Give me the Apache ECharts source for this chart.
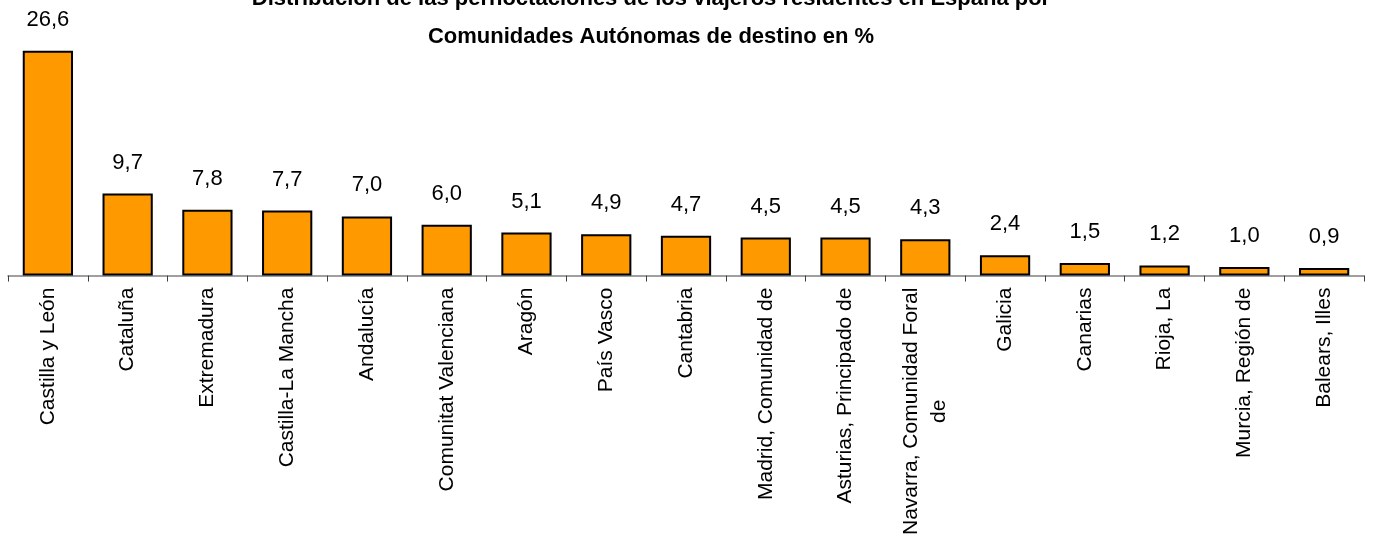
<!DOCTYPE html>
<html>
<head>
<meta charset="utf-8">
<script src="https://cdn.jsdelivr.net/npm/echarts@6/dist/echarts.min.js"></script>
<style>
  html, body { margin: 0; padding: 0; background: #fff; }
  #chart { width: 1391px; height: 538px; }
</style>
</head>
<body>
<div id="chart"></div>
<script>
// comunidades y porcentajes
var categories = ['Castilla y León', 'Cataluña', 'Extremadura', 'Castilla-La Mancha', 'Andalucía',
  'Comunitat Valenciana', 'Aragón', 'País Vasco', 'Cantabria', 'Madrid, Comunidad de',
  'Asturias, Principado de', 'Navarra, Comunidad Foral\nde', 'Galicia', 'Canarias', 'Rioja, La',
  'Murcia, Región de', 'Balears, Illes'];
var values = [26.6, 9.7, 7.8, 7.7, 7.0, 6.0, 5.1, 4.9, 4.7, 4.5, 4.5, 4.3, 2.4, 1.5, 1.2, 1.0, 0.9];

var font = 'Arial, "Liberation Sans", sans-serif';

var option = {
  animation: false,
  backgroundColor: '#fff',
  title: {
    text: 'Distribución de las pernoctaciones de los viajeros residentes en España por\nComunidades Autónomas de destino en %',
    left: 651,
    top: -20,
    padding: 0,
    textAlign: 'center',
    textStyle: { fontFamily: font, fontSize: 22, fontWeight: 'bold', color: '#000', lineHeight: 38 }
  },
  grid: { left: 8, right: 27, top: 22, bottom: 261, containLabel: false },
  xAxis: {
    type: 'category',
    data: categories,
    axisLine: { lineStyle: { color: '#808080', width: 1.5 } },
    axisTick: { show: true, length: 6, lineStyle: { color: '#404040', width: 1 } },
    axisLabel: {
      rotate: 90,
      interval: 0,
      margin: 12,
      formatter: function (v) {
        return v.split('\n').map(function (l) { return '{c|' + l + '}'; }).join('\n');
      },
      rich: { c: { align: 'center', fontFamily: font, fontSize: 21, lineHeight: 28, color: '#000' } }
    }
  },
  yAxis: { type: 'value', min: 0, max: 30, show: false },
  series: [{
    type: 'bar',
    data: values,
    barCategoryGap: '37%',
    itemStyle: { color: '#FF9900', borderColor: '#000', borderWidth: 2 },
    label: {
      show: true,
      position: 'top',
      distance: 20,
      fontFamily: font,
      fontSize: 22,
      color: '#000',
      formatter: function (p) { return p.value.toFixed(1).replace('.', ','); }
    }
  }]
};

var chart = echarts.init(document.getElementById('chart'));
chart.setOption(option);
</script>
</body>
</html>
